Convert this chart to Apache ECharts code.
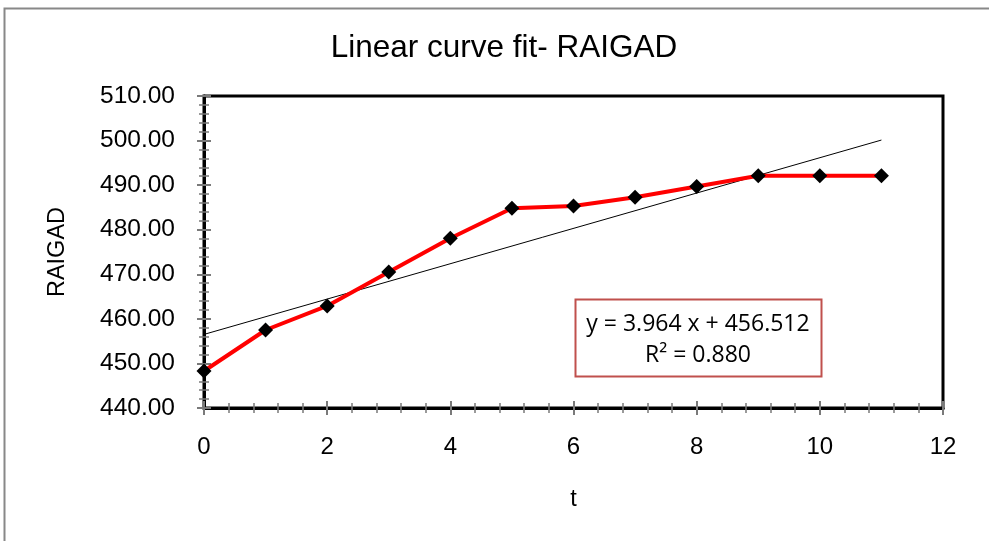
<!DOCTYPE html>
<html><head><meta charset="utf-8">
<script src="https://cdn.jsdelivr.net/npm/echarts@6/dist/echarts.min.js"></script>
<style>html,body{margin:0;padding:0;background:#fff}#c{width:989px;height:541px}</style>
</head><body><div id="c"></div>
<script>
const tValues = [0,1,2,3,4,5,6,7,8,9,10,11];
const raigad = [448.3,457.5,462.9,470.5,478.1,484.8,485.3,487.3,489.7,492.1,492.1,492.1];
const trendEnds = [[0,456.512],[11,500.116]];
const titleText = 'Linear curve fit- RAIGAD';
const eqLines = ['y = 3.964 x + 456.512','R² = 0.880'];

const chart = echarts.init(document.getElementById('c'), null, {renderer:'canvas'});
const font = 'Liberation Sans, Arial, sans-serif';
const tickGray = '#7a7a7a';
function xAx(inside, show){
  return {type:'value',min:0,max:12,interval:2,position:'bottom',
    axisLine:{show:show,onZero:false,lineStyle:{color:'#000',width:3}},
    axisTick:{show:true,inside:inside,length:7,lineStyle:{color:tickGray,width:2}},
    minorTick:{show:true,splitNumber:5,length:5,lineStyle:{color:tickGray,width:1.5}},
    axisLabel:{show:show,color:'#000',fontFamily:font,fontSize:24,margin:27},
    splitLine:{show:false},
    name:show?'t':'',nameLocation:'middle',nameGap:80,
    nameTextStyle:{color:'#000',fontFamily:font,fontSize:23.5}};
}
function yAx(inside, show){
  return {type:'value',min:440,max:510,interval:10,position:'left',
    axisLine:{show:show,onZero:false,lineStyle:{color:'#000',width:3}},
    axisTick:{show:true,inside:inside,length:7,lineStyle:{color:tickGray,width:2}},
    minorTick:{show:true,splitNumber:5,length:5,lineStyle:{color:tickGray,width:1.5}},
    axisLabel:{show:show,color:'#000',fontFamily:font,fontSize:24.5,margin:29,
      formatter:v=>v.toFixed(2)},
    splitLine:{show:false},
    name:show?'RAIGAD':'',nameLocation:'middle',nameGap:134,nameRotate:90,
    nameTextStyle:{color:'#000',fontFamily:font,fontSize:23.5}};
}
chart.setOption({
  animation:false,
  backgroundColor:'#fff',
  title:{text:titleText,left:499,top:27,textAlign:'center',
    textStyle:{fontFamily:font,fontSize:31.5,fontWeight:'normal',color:'#000'}},
  grid:{left:204,right:46,top:96,bottom:133,show:true,borderColor:'#000',borderWidth:3,backgroundColor:'transparent'},
  xAxis:[xAx(false,true),xAx(true,false)],
  yAxis:[yAx(false,true),yAx(true,false)],
  series:[
    {type:'line',data:trendEnds,symbol:'none',lineStyle:{color:'#000',width:1},z:2,silent:true},
    {type:'line',data:tValues.map((t,i)=>[t,raigad[i]]),symbol:'diamond',symbolSize:15,
     itemStyle:{color:'#000'},lineStyle:{color:'#ff0000',width:4},z:3}
  ],
  graphic:[
    {type:'rect',shape:{x:4.5,y:8.5,width:1100,height:700},style:{fill:'none',stroke:'#888',lineWidth:2},z:-1},
    {type:'rect',shape:{x:575.5,y:299.5,width:246,height:77},style:{fill:'#fff',stroke:'#c0504d',lineWidth:2},z:10},
    {type:'text',x:698,y:324,style:{text:eqLines[0],font:'23px "Open Sans", sans-serif',fill:'#000',align:'center',verticalAlign:'middle'},z:11},
    {type:'text',x:698,y:355,style:{text:eqLines[1],font:'23px "Open Sans", sans-serif',fill:'#000',align:'center',verticalAlign:'middle'},z:11}
  ]
});
</script></body></html>
